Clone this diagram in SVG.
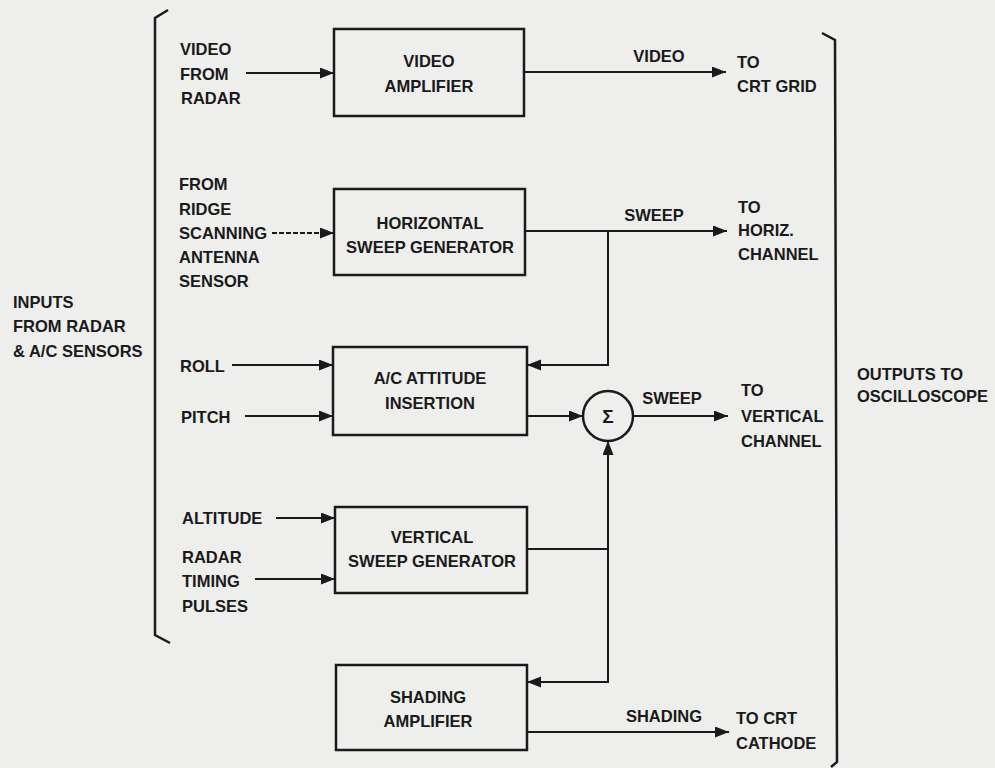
<svg xmlns="http://www.w3.org/2000/svg" width="995" height="768" viewBox="0 0 995 768">
<style>
.bg{fill:#eeeeec}
.box{fill:none;stroke:#1a1a1a;stroke-width:2.5}
.ln{fill:none;stroke:#1a1a1a;stroke-width:2}
.dash{stroke-dasharray:5 2}
.br{fill:none;stroke:#1a1a1a;stroke-width:2.5}
text{font-family:"Liberation Sans",Arial,sans-serif;font-weight:bold;font-size:16.5px;fill:#1a1a1a}
.c{text-anchor:middle}
</style>
<defs>
<marker id="ah" markerUnits="userSpaceOnUse" markerWidth="15" markerHeight="12" refX="14" refY="5.5" orient="auto">
<path d="M0,0 L14,5.5 L0,11 z" fill="#1a1a1a"/>
</marker>
</defs>
<rect class="bg" x="0" y="0" width="995" height="768"/>

<g id="brackets">
<path class="br" d="M168,10 L155,18 L155,635 L170,643"/>
<path class="br" d="M822,33 L835,40 L837,762 L831,767"/>
</g>

<g id="labels">
<text x="180" y="55">VIDEO<tspan x="180" y="80">FROM</tspan><tspan x="181" y="104">RADAR</tspan></text>
<text x="179" y="190">FROM<tspan x="179" y="215">RIDGE</tspan><tspan x="179" y="239">SCANNING</tspan><tspan x="179" y="263">ANTENNA</tspan><tspan x="179" y="287">SENSOR</tspan></text>
<text x="13" y="308">INPUTS<tspan x="13" y="332">FROM RADAR</tspan><tspan x="13" y="357">&amp; A/C SENSORS</tspan></text>
<text x="180" y="372">ROLL</text>
<text x="181" y="423">PITCH</text>
<text x="182" y="524">ALTITUDE</text>
<text x="182" y="563">RADAR<tspan x="182" y="587">TIMING</tspan><tspan x="182" y="612">PULSES</tspan></text>
<text class="c" x="659" y="62">VIDEO</text>
<text x="737" y="68">TO<tspan x="737" y="92">CRT GRID</tspan></text>
<text class="c" x="654" y="221">SWEEP</text>
<text x="738" y="213">TO<tspan x="738" y="236">HORIZ.</tspan><tspan x="738" y="260">CHANNEL</tspan></text>
<text class="c" x="672" y="404">SWEEP</text>
<text x="741" y="396">TO<tspan x="741" y="422">VERTICAL</tspan><tspan x="741" y="447">CHANNEL</tspan></text>
<text class="c" x="664" y="722">SHADING</text>
<text x="736" y="724">TO CRT<tspan x="736" y="749">CATHODE</tspan></text>
<text x="857" y="380">OUTPUTS TO<tspan x="857" y="402">OSCILLOSCOPE</tspan></text>
</g>

<g id="video-amplifier">
<rect class="box" x="334" y="29" width="190" height="87"/>
<text class="c" x="429" y="67">VIDEO<tspan x="429" y="92">AMPLIFIER</tspan></text>
</g>

<g id="horizontal-sweep-generator">
<rect class="box" x="334" y="189" width="191" height="86"/>
<text class="c" x="430" y="229">HORIZONTAL<tspan x="430" y="253">SWEEP GENERATOR</tspan></text>
</g>

<g id="attitude-insertion">
<rect class="box" x="333" y="347" width="194" height="88"/>
<text class="c" x="430" y="384">A/C ATTITUDE<tspan x="430" y="409">INSERTION</tspan></text>
</g>

<g id="summer">
<circle class="box" cx="608" cy="416" r="25"/>
<text class="c" x="608" y="423" style="font-size:19px">Σ</text>
</g>

<g id="vertical-sweep-generator">
<rect class="box" x="335" y="507" width="192" height="86"/>
<text class="c" x="432" y="543">VERTICAL<tspan x="432" y="567">SWEEP GENERATOR</tspan></text>
</g>

<g id="shading-amplifier">
<rect class="box" x="336" y="665" width="191" height="85"/>
<text class="c" x="428" y="703">SHADING<tspan x="428" y="727">AMPLIFIER</tspan></text>
</g>

<g id="connectors">
<path class="ln" d="M246,73 H334" marker-end="url(#ah)"/>
<path class="ln" d="M524,72 H726" marker-end="url(#ah)"/>
<path class="ln dash" d="M272,233 H334" marker-end="url(#ah)"/>
<path class="ln" d="M525,231 H727" marker-end="url(#ah)"/>
<path class="ln" d="M608,231 V365 H527" marker-end="url(#ah)"/>
<path class="ln" d="M232,365 H333" marker-end="url(#ah)"/>
<path class="ln" d="M245,416 H333" marker-end="url(#ah)"/>
<path class="ln" d="M527,416 H583" marker-end="url(#ah)"/>
<path class="ln" d="M633,416 H728" marker-end="url(#ah)"/>
<path class="ln" d="M276,518 H335" marker-end="url(#ah)"/>
<path class="ln" d="M255,579 H335" marker-end="url(#ah)"/>
<path class="ln" d="M527,549 H609"/>
<path class="ln" d="M608,682 V441" marker-end="url(#ah)"/>
<path class="ln" d="M608,549 V682 H527" marker-end="url(#ah)"/>
<path class="ln" d="M527,732 H729" marker-end="url(#ah)"/>
</g>
</svg>
